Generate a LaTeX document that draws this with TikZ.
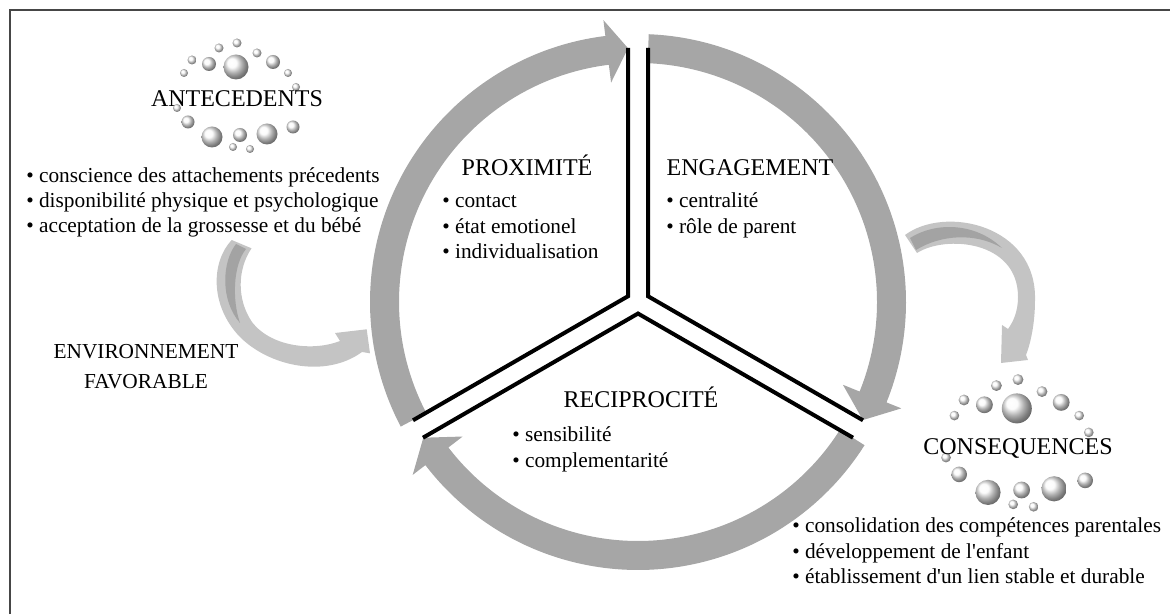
\documentclass[tikz,border=0pt]{standalone}
\usepackage{fontspec}
\setmainfont{Liberation Serif}[Ligatures=TeXOff]
\usepackage{xcolor}
\usepackage{tikz}

\definecolor{ringgray}{RGB}{166,166,166}
\definecolor{arrowgray}{RGB}{196,196,196}
\definecolor{arrowdark}{RGB}{163,163,163}
\definecolor{framegray}{RGB}{70,70,70}
\definecolor{bubblegray}{RGB}{250,250,250}

\tikzset{
  heading/.style={anchor=base, inner sep=0pt, font=\fontsize{18}{21}\selectfont},
  bullets/.style={anchor=base west, align=left, inner sep=0pt, font=\fontsize{16}{19}\selectfont},
  divider/.style={draw=black, line width=3pt},
  bubbles/.pic={
    \foreach \bx/\by/\br in {0/57/4.5, -18/52/4.5, 20/47/4.5, -45/40/4.5, -28/36/7, -1/33/12.5,
      36/38/7, -53/27/4, 51/27/4, 59/13/4, -60/-8/4, -49/-22/6.5, -25/-37/10.5,
      3/-35/7, -4/-47/4, 13/-49/4, 30/-34/10.5, 56/-27/6.5}
      \shade[ball color=bubblegray] (\bx,\by) circle[radius=\br];
  }
}

\begin{document}
\begin{tikzpicture}[x=0.75pt, y=0.75pt]
        \useasboundingbox (0,0) rectangle (1170,614);
        % Frame
        \draw[framegray, line width=1.5pt] (10,0) |- (1170,604);

        % Curved arrows
        \fill[arrowgray] (231.7,374) .. controls (211,352) and (210,309) .. (239,278)
          .. controls (268,248) and (325,235) .. (362,262) -- (370,260.7) -- (366.7,284.7)
          -- (335,281) -- (340,273) .. controls (315,263) and (272,266) .. (252,292)
          .. controls (237,314) and (237,344) .. (251.5,365.7) -- cycle;
        \fill[arrowdark] (236,370) .. controls (222,352) and (220,314) .. (240,291)
          .. controls (232,314) and (233,349) .. (246,365) -- cycle;
        \fill[arrowgray] (905,379) .. controls (945,409) and (1037,389) .. (1035,314)
          .. controls (1035,289) and (1030,269) .. (1026,259) -- (1028,254) -- (1001,251)
          -- (1002,289) -- (1008,285) .. controls (1013,292) and (1018,302) .. (1018,317)
          .. controls (1018,374) and (945,379) .. (917,361) -- cycle;
        \fill[arrowdark] (910,376) .. controls (935,392) and (975,392) .. (1002,366)
          .. controls (975,382) and (940,379) .. (916,364) -- cycle;

        % Ring
        \coordinate (ring) at (638,312);
        \begin{scope}[shift={(ring)}]
          \fill[ringgray] (207.7:268) arc[start angle=207.7, end angle=97, radius=268]
            -- (97:284) -- (92.25:254) -- (97:221) -- (97:239)
            arc[start angle=97, end angle=207.7, radius=239] -- cycle;
          \fill[ringgray] (87.7:268) arc[start angle=87.7, end angle=-22, radius=268]
            -- (-22:284) -- (-27.7:254) -- (-22:221) -- (-22:239)
            arc[start angle=-22, end angle=87.7, radius=239] -- cycle;
          \fill[ringgray] (-32.3:268) arc[start angle=-32.3, end angle=-142.5, radius=268]
            -- (-142.5:284) -- (-147.7:254) -- (-142.5:221) -- (-142.5:239)
            arc[start angle=-142.5, end angle=-32.3, radius=239] -- cycle;
          % Dividers
          \draw[divider] (-10,254) -- (-10,5.77) -- (-225,-118.3);
          \draw[divider] (10,254) -- (10,5.77) -- (225,-118.3);
          \draw[divider] (-215,-135.7) -- (0,-11.55) -- (215,-135.7);
        \end{scope}

        % Bubbles
        \pic at (237,514) {bubbles};
        \pic[scale=1.2] at (1018,166) {bubbles};

        % Text
        \node[heading] (ante) at (237,507) {ANTECEDENTS};
        \node[bullets] (anteList) at (26,381) {%
          • conscience des attachements précedents\\
          • disponibilité physique et psychologique\\
          • acceptation de la grossesse et du bébé};
        \node[align=center, inner sep=0pt, anchor=base, font=\fontsize{16}{22.5}\selectfont]
          (env) at (146,225) {ENVIRONNEMENT\\FAVORABLE};
        \node[heading] (prox) at (527,438) {PROXIMITÉ};
        \node[bullets] (proxList) at (442,355.5) {• contact\\• état emotionel\\• individualisation};
        \node[heading] (eng) at (750,438) {ENGAGEMENT};
        \node[bullets] (engList) at (666,380.7) {• centralité\\• rôle de parent};
        \node[heading] (rec) at (641,206) {RECIPROCITÉ};
        \node[bullets] (recList) at (512,146.7) {• sensibilité\\• complementarité};
        \node[heading] (cons) at (1018,159) {CONSEQUENCES};
        \node[bullets] (consList) at (792,30.5) {%
          • consolidation des compétences parentales\\
          • développement de l'enfant\\
          • établissement d'un lien stable et durable};
      \end{tikzpicture}
\end{document}
